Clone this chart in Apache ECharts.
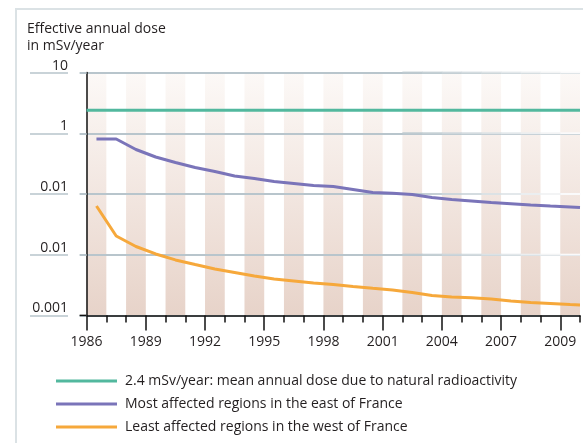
<!DOCTYPE html>
<html><head><meta charset="utf-8">
<script src="https://cdn.jsdelivr.net/npm/echarts@6/dist/echarts.min.js"></script>
<style>html,body{margin:0;padding:0;background:#fff}#c{width:583px;height:443px}</style>
</head><body><div id="c"></div>
<script>
// ---- data ----
const years = [1986.5, 1987.5, 1988.5, 1989.5, 1990.5, 1991.5, 1992.5, 1993.5, 1994.5, 1995.5,
  1996.5, 1997.5, 1998.5, 1999.5, 2000.5, 2001.5, 2002.5, 2003.5, 2004.5, 2005.5,
  2006.5, 2007.5, 2008.5, 2009.5, 2010.5, 2011];
const eastValues = [0.806, 0.806, 0.541, 0.407, 0.330, 0.273, 0.235, 0.198, 0.180, 0.161,
  0.149, 0.138, 0.133, 0.119, 0.106, 0.103, 0.098, 0.0875, 0.081, 0.0767,
  0.0725, 0.0692, 0.0659, 0.0634, 0.0611, 0.0600];
const westValues = [0.0634, 0.0203, 0.01365, 0.01028, 0.0082, 0.0069, 0.00582, 0.0051, 0.00446, 0.00398,
  0.00369, 0.00342, 0.00323, 0.0030, 0.0028, 0.00262, 0.00239, 0.00213, 0.00201, 0.00195,
  0.00186, 0.00173, 0.00163, 0.00157, 0.00151, 0.00149];
const naturalYears = [1986, 2011];
const naturalValues = [2.4, 2.4];
const seriesNames = [
  '2.4 mSv/year: mean annual dose due to natural radioactivity',
  'Most affected regions in the east of France',
  'Least affected regions in the west of France'
];
const xTickValues = [1986, 1989, 1992, 1995, 1998, 2001, 2004, 2007, 2010];
const xTickLabels = ['1986', '1989', '1992', '1995', '1998', '2001', '2004', '2007', '2009'];
const yTickValues = [10, 1, 0.1, 0.01, 0.001];
const yTickLabels = ['10', '1', '0.01', '0.01', '0.001'];
const stripeStarts = [1986, 1988, 1990, 1992, 1994, 1996, 1998, 2000, 2002, 2004, 2006, 2008, 2010];
const fadeYears = [2002, 2003, 2004, 2005, 2006, 2007, 2008, 2009, 2010, 2011];
const yTitle = 'Effective annual dose\nin mSv/year';

// ---- chart ----
const FONT = '"Open Sans", "Noto Sans", sans-serif';
const FS = 14;
const TXT = '#231f20';
const GRIDRGB = [184, 197, 204];
const GRIDC = 'rgb(' + GRIDRGB.join(',') + ')';
const chart = echarts.init(document.getElementById('c'), null, {renderer: 'canvas'});
const pairs = (xs, ys) => ys.map((v, i) => [xs[i], v]);
const yLabel = v => {
  const i = yTickValues.findIndex(t => Math.abs(Math.log10(t) - Math.log10(v)) < 1e-6);
  return i >= 0 ? yTickLabels[i] : '';
};
const xLabel = v => {
  const i = xTickValues.findIndex(t => Math.abs(t - v) < 1e-6);
  return i >= 0 ? xTickLabels[i] : '';
};
const stripeGrad = new echarts.graphic.LinearGradient(0, 0, 0, 1, [
  {offset: 0, color: '#fcf9f7'}, {offset: 0.5, color: '#f2e6e0'}, {offset: 1, color: '#e7d3c9'}
]);
const fadeColor = t => 'rgb(' + GRIDRGB.map(c => Math.round(c + (252 - c) * t)).join(',') + ')';

const option = {
  animation: false,
  backgroundColor: '#fff',
  textStyle: {fontFamily: FONT},
  title: {
    text: yTitle, left: 27, top: 21, padding: 0,
    textStyle: {fontFamily: FONT, fontSize: FS, fontWeight: 'normal', color: TXT, lineHeight: 16.5}
  },
  grid: {left: 86.6, right: 3, top: 72.6, bottom: 127.6},
  legend: {
    orient: 'vertical', left: 56, top: 372.5, padding: 0, height: 80, icon: 'rect',
    itemWidth: 61, itemHeight: 3, itemGap: 6,
    data: seriesNames,
    textStyle: {fontFamily: FONT, fontSize: FS, color: TXT, lineHeight: 17, padding: [0, 0, 0, 3]}
  },
  xAxis: [{
    type: 'value', min: 1986, max: 2011, interval: 1,
    axisLine: {lineStyle: {color: '#111', width: 1.5}},
    axisTick: {length: 7, lineStyle: {color: '#111', width: 1.5}},
    axisLabel: {show: false}, splitLine: {show: false}
  }, {
    type: 'value', min: 1986, max: 2011, interval: 3, position: 'bottom',
    axisLine: {show: false},
    axisTick: {length: 15, customValues: xTickValues, lineStyle: {color: '#111', width: 1.5}},
    axisLabel: {customValues: xTickValues, formatter: xLabel, margin: 20,
      fontFamily: FONT, fontSize: FS, color: TXT},
    splitLine: {show: false}
  }],
  yAxis: [{
    type: 'log', logBase: 10, min: 0.001, max: 10,
    axisLine: {show: true, lineStyle: {color: '#111', width: 1.5}},
    axisTick: {show: true, length: 7, lineStyle: {color: GRIDC, width: 2}},
    axisLabel: {formatter: yLabel, margin: 18.6, verticalAlign: 'bottom',
      fontFamily: FONT, fontSize: FS, color: TXT},
    splitLine: {show: true, lineStyle: {color: GRIDC, width: 2, opacity: 1}}
  }, {
    type: 'log', logBase: 10, min: 0.001, max: 10, position: 'left', offset: 18.6,
    axisLine: {show: false},
    axisTick: {show: true, length: 38, lineStyle: {color: GRIDC, width: 1.5}},
    axisLabel: {show: false}, splitLine: {show: false}
  }],
  series: [{
    name: 'stripes', type: 'line', data: [], z: -2, silent: true,
    markArea: {
      silent: true, z: -2,
      itemStyle: {color: stripeGrad},
      label: {show: false},
      data: stripeStarts.map(s => [{xAxis: s}, {xAxis: s + 1}])
    }
  }, {
    name: seriesNames[1], type: 'line', z: 3, symbol: 'none',
    data: pairs(years, eastValues),
    lineStyle: {color: '#7a74b9', width: 3}, itemStyle: {color: '#7a74b9'}
  }, {
    name: seriesNames[2], type: 'line', z: 3, symbol: 'none',
    data: pairs(years, westValues),
    lineStyle: {color: '#f6a83b', width: 3}, itemStyle: {color: '#f6a83b'}
  }, {
    name: seriesNames[0], type: 'line', z: 4, symbol: 'none',
    data: pairs(naturalYears, naturalValues),
    lineStyle: {color: '#52b89e', width: 3}, itemStyle: {color: '#52b89e'}
  }]
};
chart.setOption(option);

// decorations placed from axis scales
const toPx = (x, y) => chart.convertToPixel({xAxisIndex: 0, yAxisIndex: 0}, [x, y]);
const origin = toPx(1986, 0.001);
const graphics = [{
  type: 'rect', shape: {x: 16, y: 9, width: 640, height: 520}, silent: true,
  style: {fill: 'none', stroke: '#dbe2e5', lineWidth: 2}, z: 0
}, {
  type: 'line', shape: {x1: origin[0] - 7, y1: origin[1], x2: origin[0], y2: origin[1]},
  style: {stroke: '#111', lineWidth: 1.5}, z: 10
}];
yTickValues.slice(0, 4).forEach(v => {
  for (let i = 0; i < fadeYears.length - 1; i++) {
    const a = toPx(fadeYears[i], v), b = toPx(fadeYears[i + 1], v);
    const t = Math.min(1, (i + 0.75) / (fadeYears.length - 1));
    graphics.push({
      type: 'line', silent: true, z: 1,
      shape: {x1: a[0], y1: a[1], x2: b[0] + 0.5, y2: b[1]},
      style: {stroke: fadeColor(t), lineWidth: 2}
    });
  }
});
chart.setOption({graphic: graphics});
</script></body></html>
